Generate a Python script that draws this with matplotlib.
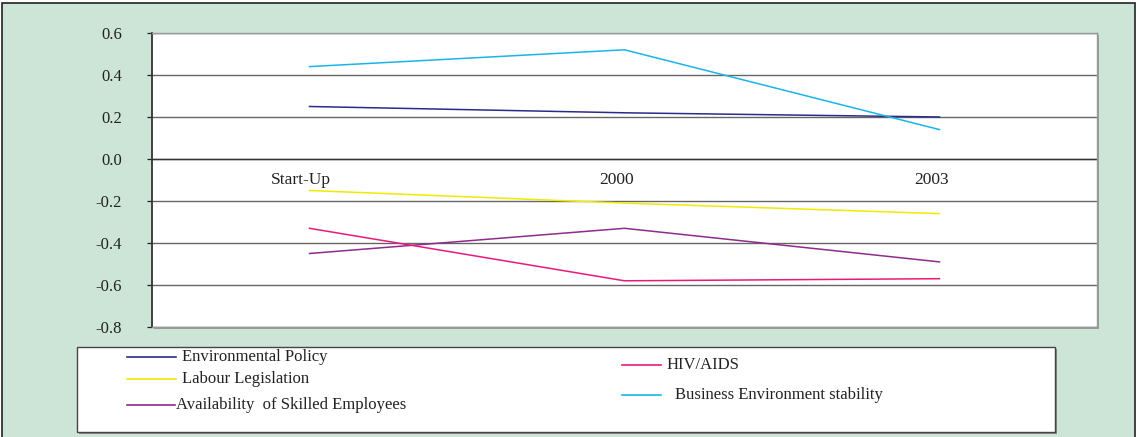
import matplotlib
matplotlib.use("Agg")
import matplotlib.pyplot as plt
from matplotlib.patches import Rectangle
from matplotlib.lines import Line2D

# Survey results by period
periods = ["Start-Up", "2000", "2003"]
environmental_policy = [0.25, 0.22, 0.20]
labour_legislation = [-0.15, -0.21, -0.26]
skilled_employees = [-0.45, -0.33, -0.49]
hiv_aids = [-0.33, -0.58, -0.57]
business_stability = [0.44, 0.52, 0.14]
y_ticks = [0.6, 0.4, 0.2, 0.0, -0.2, -0.4, -0.6, -0.8]

W, H = 1138, 437
plt.rcParams["font.family"] = ["Liberation Serif", "DejaVu Serif"]

fig = plt.figure(figsize=(W / 100, H / 100), dpi=100)
fig.patch.set_facecolor("white")


def fx(x):
    return x / W


def fy(y):
    return 1 - y / H


# outer green panel
fig.patches.append(Rectangle((fx(2), -0.02), fx(1133), 1 - 3 / H + 0.02,
                             transform=fig.transFigure, facecolor="#cce5d6",
                             edgecolor="#222222", lw=1.2, zorder=0))

# plot area shadow
fig.patches.append(Rectangle((fx(154), fy(329)), fx(945), (327 - 33) / H,
                             transform=fig.transFigure, facecolor="#9a9a9a",
                             edgecolor="none", zorder=0.5))

ax = fig.add_axes([fx(152), fy(327), fx(945), (327 - 33) / H])
ax.set_zorder(2)
ax.set_facecolor("white")

series = [
    (environmental_policy, "#2b2b8c", "Environmental Policy"),
    (labour_legislation, "#f2ea00", "Labour Legislation"),
    (skilled_employees, "#912a8f", "Availability  of Skilled Employees"),
    (hiv_aids, "#e8197d", "HIV/AIDS"),
    (business_stability, "#19b5ea", "Business Environment stability"),
]
xs = list(range(len(periods)))
for vals, col, name in series:
    ax.plot(xs, vals, color=col, lw=1.1, zorder=3)

ax.set_xlim(-0.5, 2.5)
ax.set_ylim(-0.8, 0.6)
ax.set_yticks(y_ticks)
ax.set_yticklabels([f"{v:.1f}" for v in y_ticks], fontsize=12, color="#222222")
ax.tick_params(axis="y", direction="out", length=3.6, width=0.9, pad=18, color="#222222")
ax.set_xticks([])
ax.yaxis.grid(True, color="#666666", lw=1.0, zorder=1)
ax.axhline(0, color="#333333", lw=1.0, zorder=2)

for s in ["top", "right", "bottom"]:
    ax.spines[s].set_color("#999999")
    ax.spines[s].set_linewidth(1.0)
ax.spines["left"].set_color("#333333")
ax.spines["left"].set_linewidth(1.3)

for i, lab in enumerate(periods):
    ax.annotate(lab, (i, 0), xytext=(-6, -9), textcoords="offset points",
                ha="center", va="top", fontsize=12.5, color="#222222")

# legend box
fig.patches.append(Rectangle((fx(79), fy(434)), fx(978), 85 / H,
                             transform=fig.transFigure, facecolor="#8a8a8a",
                             edgecolor="none", zorder=1))
fig.patches.append(Rectangle((fx(77), fy(432)), fx(978), 85 / H,
                             transform=fig.transFigure, facecolor="white",
                             edgecolor="#444444", lw=1.0, zorder=2))

legend_layout = [
    (127, 176, 182, 357),
    (127, 176, 182, 379),
    (127, 175, 176, 405),
    (622, 661, 667, 365),
    (622, 661, 675, 395),
]
for (vals, col, name), (x0, x1, tx, ty) in zip(series, legend_layout):
    fig.add_artist(Line2D([fx(x0), fx(x1)], [fy(ty), fy(ty)], color=col, lw=1.2,
                          transform=fig.transFigure, zorder=3))
    fig.text(fx(tx), fy(ty), name, ha="left", va="center", fontsize=12,
             color="#222222", zorder=4)

fig.savefig("out.png", dpi=100, facecolor=fig.get_facecolor())
